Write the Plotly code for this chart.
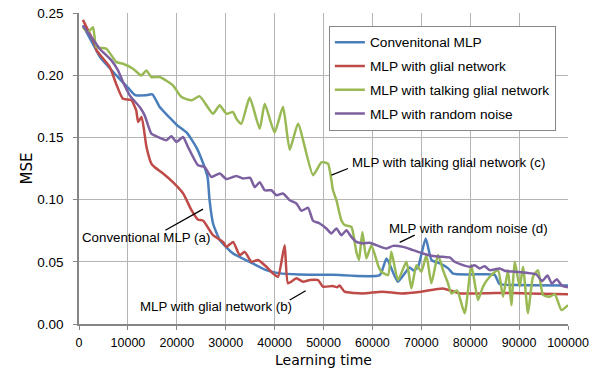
import plotly.graph_objects as go

# ---------------- data ----------------
names = ["Convenitonal MLP", "MLP with glial network",
         "MLP with talking glial network", "MLP with random noise"]
colors = ["#4A7EBB", "#BE4B48", "#98B954", "#7D60A0"]

blue_x = [800, 3200, 4300, 7600, 10000, 11500, 13500, 15000, 16500, 18500, 20000, 22000,
          24000, 25400, 26300, 26700, 27400, 28800, 31500, 34900, 38300, 41000, 45000,
          52000, 61500, 62900, 65200, 67600, 68400, 69300, 70900, 72100, 73800, 75500,
          76500, 80000, 85000, 86000, 90000, 100000]
blue_y = [0.240, 0.2226, 0.2145, 0.200, 0.190, 0.184, 0.1838, 0.1846, 0.1744, 0.166, 0.160,
          0.154, 0.142, 0.129, 0.118, 0.0995, 0.081, 0.0674, 0.0567, 0.050, 0.0433, 0.0407,
          0.0398, 0.0395, 0.0393, 0.0527, 0.034, 0.0455, 0.043, 0.0455, 0.0688, 0.0514,
          0.0487, 0.0447, 0.0405, 0.0398, 0.0395, 0.0321, 0.0313, 0.031]

red_x = [800, 3200, 3600, 6300, 7600, 9000, 10700, 11700, 12100, 12800, 13800, 14800, 15500,
         17200, 19200, 21300, 23000, 24300, 25400, 27400, 29450, 30140, 31500, 32860, 33890,
         35250, 36600, 38320, 39670, 40700, 42060, 42740, 44460, 45800, 47200, 48900, 49900,
         51900, 52800, 53300, 54300, 58000, 62000, 66000, 70000, 74400, 78000, 85000, 92000,
         100000]
red_y = [0.2445, 0.225, 0.220, 0.2065, 0.193, 0.181, 0.180, 0.1717, 0.1624, 0.1664, 0.1423,
         0.129, 0.126, 0.121, 0.114, 0.1049, 0.0915, 0.084, 0.083, 0.0714, 0.066, 0.062, 0.066,
         0.0554, 0.058, 0.050, 0.0514, 0.046, 0.0407, 0.038, 0.0634, 0.0327, 0.0367, 0.034,
         0.0353, 0.0353, 0.030, 0.0305, 0.0295, 0.031, 0.026, 0.0246, 0.026, 0.0246, 0.026,
         0.0286, 0.0246, 0.025, 0.0246, 0.024]

green_x = [800, 1840, 2860, 3560, 5600, 7650, 9000, 11040, 12750, 13780, 14800, 16500, 19220,
           20940, 23000, 24680, 27400, 28770, 30140, 31500, 32190, 33200, 34900, 36950, 37980,
           40000, 41720, 43090, 44790, 47850, 49570, 50920, 51940, 52640, 53650, 54330, 55700,
           56720, 57260, 57950, 58770, 59800, 61150, 61840, 63200, 63880, 65240, 66950, 67980,
           69000, 70020, 71040, 72060, 73420, 74440, 75460, 76150, 77300, 78870, 80240, 81600,
           82620, 83990, 85690, 86710, 87730, 88420, 89100, 90120, 90800, 91820, 92840, 93870,
           94890, 96250, 97300, 98650, 100000]
green_y = [0.2386, 0.2346, 0.2386, 0.2226, 0.2213, 0.2105, 0.2092, 0.2052, 0.1998, 0.2038,
           0.1985, 0.1985, 0.1918, 0.1824, 0.1798, 0.183, 0.169, 0.1758, 0.169, 0.1704, 0.165,
           0.161, 0.182, 0.157, 0.177, 0.154, 0.1746, 0.140, 0.161, 0.1196, 0.130, 0.129,
           0.1075, 0.0995, 0.0835, 0.0795, 0.078, 0.058, 0.0514, 0.074, 0.0527, 0.0634, 0.0473,
           0.042, 0.0393, 0.058, 0.0353, 0.050, 0.0286, 0.0473, 0.042, 0.0554, 0.0327, 0.0554,
           0.0433, 0.0327, 0.0246, 0.027, 0.0086, 0.0473, 0.0193, 0.030, 0.038, 0.0433, 0.0219,
           0.0433, 0.0152, 0.050, 0.030, 0.046, 0.0086, 0.038, 0.0433, 0.0233, 0.0219, 0.024,
           0.0112, 0.0152]

purple_x = [800, 2540, 4230, 6630, 7980, 9000, 10370, 12410, 13430, 14800, 16150, 17870, 18900,
            19920, 21270, 22290, 24330, 25700, 27070, 28770, 30140, 32190, 33540, 35000, 35930,
            36950, 37980, 39340, 40370, 41720, 43090, 44460, 45500, 46830, 47850, 49220, 50580,
            51600, 52640, 53660, 54680, 55700, 56730, 58080, 59450, 60820, 62860, 64210, 66260,
            68300, 70350, 72390, 74440, 75800, 76830, 78530, 79900, 80900, 81940, 82960, 83990,
            86030, 87050, 89100, 91500, 93500, 94700, 95800, 96700, 97700, 98700, 100000]
purple_y = [0.240, 0.2306, 0.2213, 0.2119, 0.2039, 0.1945, 0.1838, 0.1744, 0.1677, 0.153,
            0.1503, 0.1477, 0.1509, 0.1463, 0.1503, 0.1423, 0.1276, 0.1262, 0.1182, 0.121,
            0.1165, 0.119, 0.117, 0.1175, 0.110, 0.114, 0.1075, 0.1075, 0.1035, 0.1049, 0.0995,
            0.0969, 0.091, 0.0935, 0.083, 0.0808, 0.0768, 0.0728, 0.0768, 0.0714, 0.0754, 0.070,
            0.066, 0.0648, 0.0653, 0.0634, 0.0607, 0.0628, 0.062, 0.0594, 0.0567, 0.0546, 0.054,
            0.0535, 0.050, 0.0473, 0.046, 0.0473, 0.0447, 0.0465, 0.0433, 0.0447, 0.0428, 0.042,
            0.0412, 0.040, 0.0345, 0.039, 0.0325, 0.036, 0.031, 0.0295]

x_ticks = [0, 10000, 20000, 30000, 40000, 50000, 60000, 70000, 80000, 90000, 100000]
y_ticks = [0.00, 0.05, 0.10, 0.15, 0.20, 0.25]

# annotation texts and anchor points (data units)
ann_texts = ["Conventional MLP (a)", "MLP with glial network (b)",
             "MLP with talking glial network (c)", "MLP with random noise (d)"]
ann_pos = [(140, 0.0693), (12000, 0.0144), (55360, 0.1300), (62920, 0.0770)]
lead_lines = [((17670, 0.0754), (25360, 0.0923)),
              ((43090, 0.0193), (46360, 0.0267)),
              ((51620, 0.1196), (55010, 0.1250)),
              ((65580, 0.0656), (68650, 0.0714))]

series = [(blue_x, blue_y), (red_x, red_y), (green_x, green_y), (purple_x, purple_y)]

fig = go.Figure()
for i, ((xs, ys), nm, c) in enumerate(zip(series, names, colors)):
    fig.add_trace(go.Scatter(x=xs, y=ys, name=nm, mode="lines", legendgroup=str(i),
                             line=dict(color=c, width=2.5, shape="spline", smoothing=0.5)))

for txt, (ax, ay) in zip(ann_texts, ann_pos):
    fig.add_annotation(x=ax, y=ay, text=txt, showarrow=False, xanchor="left", yanchor="middle",
                       font=dict(family="Liberation Sans, Arial, sans-serif", size=13.3,
                                 color="black"))
for (x0, y0), (x1, y1) in lead_lines:
    fig.add_shape(type="line", x0=x0, y0=y0, x1=x1, y1=y1, xref="x", yref="y",
                  line=dict(color="black", width=1.3))

grid = "#B4B4B4"
axc = "#868686"
fig.update_layout(
    width=599, height=372,
    margin=dict(l=79, r=31, t=13, b=48, autoexpand=False),
    paper_bgcolor="white", plot_bgcolor="white",
    font=dict(family="Liberation Sans, Arial, sans-serif", size=13, color="black"),
    legend=dict(x=0.511, y=0.959, xanchor="left", yanchor="top",
                bgcolor="white", bordercolor=axc, borderwidth=1,
                font=dict(size=13.7, color="black"), tracegroupgap=3,
                traceorder="grouped"),
    xaxis=dict(range=[0, 100000], tickvals=x_ticks, tickformat="d", showgrid=True,
               gridcolor=grid, gridwidth=1, showline=True, linecolor=axc, linewidth=1.5,
               ticks="outside", ticklen=4, tickcolor=axc, zeroline=False, automargin=False,
               tickfont=dict(size=12.5), ticklabelstandoff=2, ticklabeloverflow="allow",
               title=dict(text="Learning time", font=dict(family="DejaVu Sans", size=14),
                          standoff=6)),
    yaxis=dict(range=[0, 0.25], tickvals=y_ticks, tickformat=".2f", showgrid=True,
               gridcolor=grid, gridwidth=1, showline=True, linecolor=axc, linewidth=1.5,
               ticks="outside", ticklen=4, tickcolor=axc, zeroline=False, automargin=False,
               tickfont=dict(size=13.5), ticklabelstandoff=7, ticklabeloverflow="allow",
               title=dict(text="MSE", font=dict(family="DejaVu Sans", size=15), standoff=1)),
)

# remove the page's default 8px body margin so the figure fills the window exactly
fig.write_html("out.html", config={"displayModeBar": False},
               post_script="document.body.style.margin='0px';document.body.style.overflow='hidden';")
